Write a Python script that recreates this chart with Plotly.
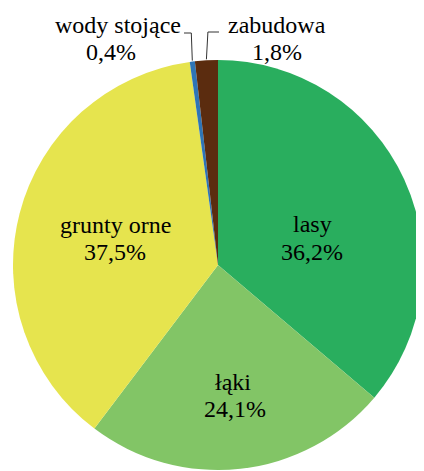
import math
import plotly.graph_objects as go

# ---- data ----
categories = ["lasy", "łąki", "grunty orne", "wody stojące", "zabudowa"]
shares = [36.2, 24.1, 37.5, 0.4, 1.8]
colors = ["#29AE5E", "#82C566", "#E6E44E", "#2E75B6", "#5B2C0F"]

# ---- layout constants (pixels, in the reference picture frame) ----
W, H = 424, 471
OFF = 8  # page body margin of the exported html
CX, CY, R = 218 - OFF, 265 - OFF, 205

def pct(v):
    return f"{v:.1f}".replace(".", ",") + "%"

fig = go.Figure(go.Pie(
    labels=categories,
    values=shares,
    sort=False,
    direction="clockwise",
    rotation=0,
    marker=dict(colors=colors, line=dict(width=0)),
    textinfo="none",
    hoverinfo="label+percent",
    showlegend=False,
    domain=dict(x=[(CX - R) / W, (CX + R) / W], y=[(H - (CY + R)) / H, (H - (CY - R)) / H]),
))

FONT = dict(family="Liberation Serif", size=24, color="#000000")

# label placement (pixel centers of name line / percent line)
label_pos = {
    "lasy": ((312, 224), (312, 252)),
    "łąki": ((233, 382), (235, 409)),
    "grunty orne": ((115, 225), (115, 252)),
    "wody stojące": ((118, 25), (111, 52)),
    "zabudowa": ((277, 25), (277, 52)),
}

def px(x):
    return (x - OFF) / W

def py(y):
    return 1 - (y - OFF) / H

annotations = []
for cat, val in zip(categories, shares):
    (nx, ny), (vx, vy) = label_pos[cat]
    annotations.append(dict(x=px(nx), y=py(ny), xref="paper", yref="paper", text=cat,
                            showarrow=False, font=FONT, xanchor="center", yanchor="middle"))
    annotations.append(dict(x=px(vx), y=py(vy), xref="paper", yref="paper", text=pct(val),
                            showarrow=False, font=FONT, xanchor="center", yanchor="middle"))

# leader lines for the small slices, endpoint at slice mid-angle on the rim
total = sum(shares)
cum = 0.0
mids = {}
for cat, val in zip(categories, shares):
    mids[cat] = (cum + val / 2) / total * 2 * math.pi
    cum += val

shapes = []
leader = {"wody stojące": (184, 33), "zabudowa": (219, 32)}
for cat, (sx, sy) in leader.items():
    a = mids[cat]
    ex = CX + OFF + R * math.sin(a)
    ey = CY + OFF - R * math.cos(a) - 1
    kx = ex + (-1 if cat == "wody stojące" else 1.5)
    path = f"M {px(sx)},{py(sy)} L {px(kx)},{py(sy)} L {px(ex)},{py(ey)}"
    shapes.append(dict(type="path", xref="paper", yref="paper", path=path,
                       line=dict(color="#333333", width=1)))

fig.update_layout(
    width=W, height=H,
    margin=dict(l=0, r=0, t=0, b=0),
    paper_bgcolor="white",
    plot_bgcolor="white",
    annotations=annotations,
    shapes=shapes,
)

fig.write_html("out.html")
